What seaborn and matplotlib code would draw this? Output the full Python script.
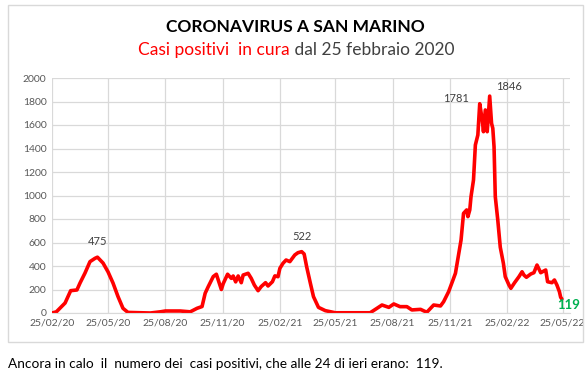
import pandas as pd
import numpy as np
import matplotlib
matplotlib.use('Agg')
import matplotlib.pyplot as plt
import matplotlib.dates as mdates
import seaborn as sns

# ── Data ─────────────────────────────────────────────────────────────────────
dates = [
    '2020-02-25', '2020-03-03', '2020-03-17', '2020-03-26', '2020-04-05', '2020-04-10',
    '2020-04-18', '2020-04-26', '2020-05-04', '2020-05-08', '2020-05-17', '2020-05-25',
    '2020-06-02', '2020-06-10', '2020-06-18', '2020-06-26', '2020-08-01', '2020-08-17',
    '2020-08-25', '2020-09-18', '2020-10-04', '2020-10-15', '2020-10-23', '2020-10-28',
    '2020-11-02', '2020-11-10', '2020-11-15', '2020-11-23', '2020-11-26', '2020-12-03',
    '2020-12-09', '2020-12-12', '2020-12-16', '2020-12-20', '2020-12-25', '2020-12-28',
    '2021-01-05', '2021-01-10', '2021-01-15', '2021-01-21', '2021-01-26', '2021-02-02',
    '2021-02-06', '2021-02-13', '2021-02-17', '2021-02-22', '2021-02-25', '2021-03-02',
    '2021-03-07', '2021-03-13', '2021-03-21', '2021-03-26', '2021-04-01', '2021-04-05',
    '2021-04-09', '2021-04-15', '2021-04-20', '2021-04-28', '2021-05-09', '2021-05-25',
    '2021-07-20', '2021-07-31', '2021-08-08', '2021-08-19', '2021-08-27', '2021-09-06',
    '2021-09-17', '2021-09-25', '2021-10-09', '2021-10-19', '2021-10-30', '2021-11-10',
    '2021-11-15', '2021-11-23', '2021-11-29', '2021-12-04', '2021-12-13', '2021-12-17',
    '2021-12-22', '2021-12-24', '2021-12-27', '2021-12-29', '2022-01-02', '2022-01-05',
    '2022-01-09', '2022-01-12', '2022-01-16', '2022-01-18', '2022-01-21', '2022-01-24',
    '2022-01-28', '2022-01-31', '2022-02-02', '2022-02-04', '2022-02-06', '2022-02-10',
    '2022-02-14', '2022-02-19', '2022-02-22', '2022-02-28', '2022-03-03', '2022-03-09',
    '2022-03-16', '2022-03-21', '2022-03-24', '2022-03-28', '2022-04-04', '2022-04-09',
    '2022-04-14', '2022-04-20', '2022-04-28', '2022-05-01', '2022-05-08', '2022-05-12',
    '2022-05-16', '2022-05-20', '2022-05-22', '2022-05-24',
]
positivi = [
    0, 10, 85, 190, 196, 255,
    340, 437, 465, 475, 425, 350,
    255, 140, 40, 5, 0, 10,
    17, 17, 10, 40, 55, 168,
    225, 310, 330, 200, 250, 330,
    295, 315, 265, 315, 258, 323,
    338, 295, 238, 190, 225, 258,
    230, 266, 316, 309, 380, 423,
    451, 437, 494, 513, 522, 502,
    394, 253, 139, 48, 20, 2,
    2, 40, 68, 48, 77, 54,
    54, 26, 31, 6, 68, 60,
    96, 181, 266, 338, 621, 848,
    877, 820, 877, 990, 1132, 1430,
    1515, 1781, 1643, 1543, 1728, 1543,
    1846, 1614, 1572, 1415, 990, 791,
    560, 423, 309, 238, 210, 258,
    309, 351, 323, 304, 332, 343,
    408, 343, 366, 266, 258, 281,
    238, 181, 134, 119,
]
tick_dates = ['2020-02-25', '2020-05-25', '2020-08-25', '2020-11-25', '2021-02-25',
              '2021-05-25', '2021-08-25', '2021-11-25', '2022-02-25', '2022-05-25']
labelled = {'2020-05-08': ('475', (0, 7)), '2021-04-01': ('522', (0, 7)),
            '2022-01-12': ('1781', (-17, 0)), '2022-01-28': ('1846', (14, 3))}

df = pd.DataFrame({'data': pd.to_datetime(dates), 'positivi': positivi})

# ── Colours ──────────────────────────────────────────────────────────────────
RED   = '#FF0000'
GREEN = '#00B050'
GRID  = '#D9D9D9'
TICK  = '#595959'
DARK  = '#404040'

sns.set_style('white')
plt.rcParams['font.family'] = ['Lato', 'DejaVu Sans']

W, H = 585, 375
fig = plt.figure(figsize=(W / 100, H / 100), dpi=100)
fig.patch.set_facecolor('white')

# chart frame
fig.add_artist(plt.Rectangle((8 / W, 1 - 342 / H), 575 / W, 337 / H,
                             transform=fig.transFigure, fill=False,
                             edgecolor=GRID, linewidth=1))

ax = fig.add_axes([52 / W, 1 - 313 / H, 518 / W, 235 / H])
sns.lineplot(data=df, x='data', y='positivi', ax=ax, color=RED, linewidth=2.6)

ax.set_xlim(pd.Timestamp('2020-02-25'), pd.Timestamp('2022-06-06'))
ax.set_ylim(0, 2000)
ax.set_yticks(range(0, 2001, 200))
ax.set_xticks(pd.to_datetime(tick_dates))
ax.xaxis.set_major_formatter(mdates.DateFormatter('%d/%m/%y'))
ax.grid(True, color=GRID, linewidth=0.9)
ax.set_axisbelow(True)
ax.set_xlabel('')
ax.set_ylabel('')
ax.tick_params(length=0, labelsize=7.5, labelcolor=TICK, pad=4)
ax.spines[['top', 'right', 'left']].set_visible(False)
ax.spines['bottom'].set_color(GRID)

for d, (txt, off) in labelled.items():
    v = df.loc[df['data'] == pd.Timestamp(d), 'positivi'].iloc[0]
    ax.annotate(txt, (pd.Timestamp(d), v), xytext=off, textcoords='offset points',
                ha='center', va='bottom', fontsize=8, color=DARK)
ax.annotate(str(positivi[-1]), (df['data'].iloc[-1], positivi[-1]), xytext=(5, -4),
            textcoords='offset points', ha='center', va='center',
            fontsize=9.5, fontweight='bold', color=GREEN)

# titles
fig.text(295 / W, 1 - 27 / H, 'CORONAVIRUS A SAN MARINO', ha='center', va='center',
         fontsize=12.5, fontweight='bold', color='black')
t1 = fig.text(0, 1 - 50 / H, 'Casi positivi  in cura', ha='left', va='center',
              fontsize=12.5, color=RED)
t2 = fig.text(0, 1 - 50 / H, ' dal 25 febbraio 2020', ha='left', va='center',
              fontsize=12.5, color=DARK)
fig.canvas.draw()
r = fig.canvas.get_renderer()
w1 = t1.get_window_extent(r).width
w2 = t2.get_window_extent(r).width
x0 = 296 - (w1 + w2) / 2
t1.set_x(x0 / W)
t2.set_x((x0 + w1) / W)

fig.text(8 / W, 1 - 364 / H,
         'Ancora in calo  il  numero dei  casi positivi, che alle 24 di ieri erano:  119.',
         ha='left', va='center', fontsize=9.8, color='black')

plt.savefig('out.png', dpi=100, facecolor=fig.get_facecolor())
